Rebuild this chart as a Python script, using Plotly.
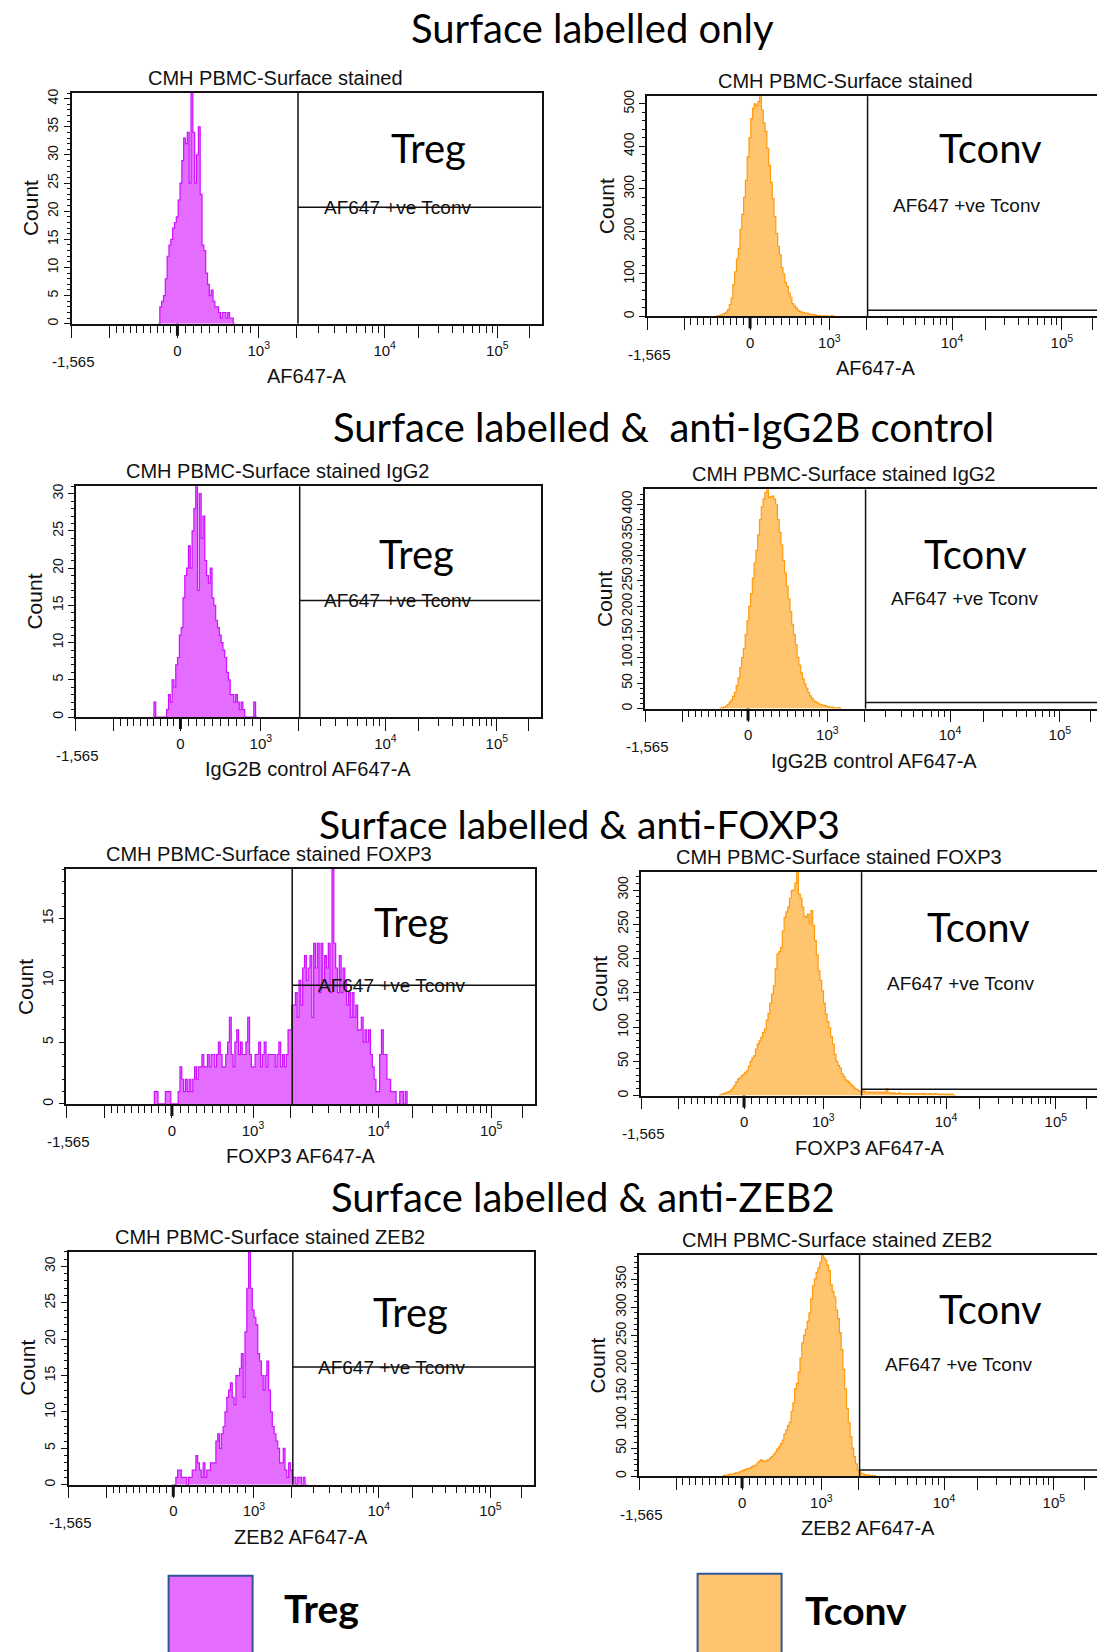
import numpy as np
import plotly.graph_objects as go

# ---------------- axis scale (FlowJo 256-channel biexponential display) -------------
AXIS_VALUES = [-1565, 0, 1000, 10000, 100000, 262144]
AXIS_CHANNELS = [0.0, 57.6, 101.9, 170.5, 231.9, 256.0]

X_MAJOR_VALUES = [-1565, -1000, 0, 1000, 2000, 10000, 20000, 100000, 200000]
X_MAJOR_TEXT = ["", "", "0", "10<sup>3</sup>", "", "10<sup>4</sup>", "", "10<sup>5</sup>", ""]
X_MINOR_VALUES = ([-900, -800, -700, -600, -500, -400, -300, -200, -100]
                  + [100, 200, 300, 400, 500, 600, 700, 800, 900]
                  + [3000, 4000, 5000, 6000, 7000, 8000, 9000]
                  + [30000, 40000, 50000, 60000, 70000, 80000, 90000])
GATE_VALUE = 2050

# ---------------- histogram counts per display channel -----------------------------
TREG_SURF_START = 47
TREG_SURF = [0, 3, 4, 5, 8, 12, 14, 15, 17, 18, 19, 22, 25, 29, 33, 32, 34, 25, 41, 34,
             25, 30, 35, 23, 14, 13, 9, 7, 5, 6, 4, 3, 3, 2, 1, 2, 2, 1, 2, 1, 1, 0]

TCONV_SURF_START = 39
TCONV_SURF = [1, 2, 3, 5, 7, 10, 16, 28, 43, 75, 105, 135, 160, 205, 240, 280, 320, 375,
              420, 465, 490, 500, 495, 505, 518, 485, 455, 435, 395, 355, 315, 277, 235,
              195, 165, 145, 115, 100, 80, 70, 55, 45, 30, 25, 20, 15, 12, 10, 9, 8, 8,
              6, 5, 4, 4, 3, 2, 2, 1, 1, 1, 1, 0, 0, 2, 0]

TREG_IGG_START = 43
TREG_IGG = [2, 0, 0, 0, 0, 0, 0, 1, 3, 2, 5, 4, 7, 8, 11, 12, 16, 19, 20, 23, 20, 25, 28,
            31, 17, 30, 24, 27, 21, 19, 18, 20, 16, 15, 13, 12, 11, 10, 9, 8, 6, 5, 3, 3,
            2, 3, 2, 1, 2, 1, 0, 0, 0, 0, 0, 2, 0]

TCONV_IGG_START = 42
TCONV_IGG = [1, 2, 3, 5, 8, 12, 17, 24, 32, 45, 60, 80, 100, 118, 145, 172, 200, 225, 255,
             285, 310, 340, 370, 395, 410, 423, 429, 413, 415, 416, 410, 400, 370, 345,
             320, 290, 265, 240, 215, 190, 165, 145, 125, 100, 85, 70, 58, 48, 40, 32,
             25, 20, 15, 13, 11, 9, 8, 7, 6, 5, 4, 3, 3, 2, 1, 1, 2, 0]

TREG_FOXP3_START = 48
TREG_FOXP3 = [1, 1, 0, 0, 0, 0, 1, 1, 1, 0, 0, 0, 0, 1, 3, 2, 1, 2, 1, 2, 1, 2, 3, 2, 3,
              3, 4, 3, 3, 4, 3, 4, 4, 3, 4, 5, 4, 3, 3, 4, 5, 7, 4, 3, 5, 6, 4, 5, 4, 4,
              5, 7, 4, 3, 3, 4, 4, 5, 3, 4, 5, 3, 4, 4, 4, 4, 3, 4, 5, 3, 4, 3, 4, 6, 6,
              8, 8, 9, 7, 10, 8, 11, 12, 10, 11, 12, 7, 13, 11, 13, 9, 13, 10, 12, 11,
              13, 9, 19, 13, 11, 9, 12, 9, 11, 10, 8, 9, 7, 9, 7, 8, 6, 6, 7, 5, 6, 5, 6,
              4, 3, 2, 1, 1, 4, 6, 4, 4, 2, 2, 1, 1, 1, 0, 0, 1, 1, 0, 1]

TCONV_FOXP3_START = 44
TCONV_FOXP3 = [1, 2, 3, 4, 5, 6, 8, 11, 15, 20, 24, 26, 29, 31, 34, 36, 43, 50, 55, 58,
               68, 75, 80, 85, 92, 97, 110, 120, 135, 148, 160, 185, 206, 210, 216, 240,
               260, 268, 275, 288, 299, 300, 310, 326, 294, 288, 275, 262, 260, 265, 250,
               270, 248, 226, 205, 182, 168, 153, 135, 119, 108, 99, 86, 75, 60, 50, 44,
               40, 32, 28, 23, 21, 19, 16, 14, 11, 9, 8, 6, 6, 7,
               5, 5, 4, 5, 5, 4, 5, 5, 4, 5, 5, 4, 10, 4,
               4, 3, 4, 3, 3, 4, 3,
               3, 3, 2, 3, 3, 2, 3, 3, 2, 3, 3, 2, 3, 2, 2, 3, 2, 2, 3,
               2, 2, 1, 2, 2, 1, 2, 1, 2, 1, 0]

TREG_ZEB2_START = 58
TREG_ZEB2 = [0, 1, 2, 2, 1, 1, 1, 0, 1, 1, 2, 2, 4, 3, 2, 1, 3, 1, 2, 2, 3, 3, 3, 6, 7,
             5, 7, 8, 10, 12, 13, 14, 12, 11, 15, 15, 16, 18, 12, 21, 27, 32, 27, 24, 23,
             22, 18, 17, 15, 13, 15, 17, 13, 10, 8, 7, 6, 5, 3, 3, 5, 2, 1, 3, 2, 1, 1,
             0, 1, 1, 0, 1, 0]

TCONV_ZEB2_START = 47
TCONV_ZEB2 = [1, 2, 2, 3, 4, 4, 5, 6, 6, 8, 9, 11, 12, 13, 14, 15, 17, 19, 20, 24, 27, 29,
              27, 26, 28, 29, 32, 35, 39, 43, 48, 52, 58, 64, 75, 82, 90, 96, 115, 130,
              155, 165, 185, 210, 237, 250, 261, 275, 290, 315, 338, 350, 362, 370, 380,
              393, 388, 384, 375, 365, 340, 328, 318, 295, 280, 255, 225, 190, 155, 120,
              95, 70, 50, 35, 22, 11, 8, 5, 4, 3, 2, 2, 1, 1, 1, 0]

ROW_TITLES = ["Surface labelled only", "Surface labelled &  anti-IgG2B control",
              "Surface labelled & anti-FOXP3", "Surface labelled & anti-ZEB2"]
LEGEND_LABELS = ["Treg", "Tconv"]

# ---------------- styling / layout ------------------------------------------------
W_FIG, H_FIG = 1097, 1652
FLOW_FONT = "Liberation Sans"
PPT_FONT = "Lato"
COLORS = {"Treg": ("#E46CFF", "#CC11FF"), "Tconv": ("#FFC46E", "#FF9A10")}
TCONV_W = 458

panels = [
    dict(counts=TREG_SURF, start=TREG_SURF_START, kind="Treg", title="CMH PBMC-Surface stained",
         xtitle="AF647-A", dt=5, mdt=1, box=(71.7, 87.5, 541.6, 319.3), lab=(0.76, 0.74)),
    dict(counts=TCONV_SURF, start=TCONV_SURF_START, kind="Tconv", title="CMH PBMC-Surface stained",
         xtitle="AF647-A", dt=100, mdt=20, box=(647, 90.6, None, 311.9), lab=(0.751, 0.743)),
    dict(counts=TREG_IGG, start=TREG_IGG_START, kind="Treg", title="CMH PBMC-Surface stained IgG2",
         xtitle="IgG2B control AF647-A", dt=5, mdt=1, box=(75.9, 482.6, 540.6, 714.5), lab=(0.732, 0.686)),
    dict(counts=TCONV_IGG, start=TCONV_IGG_START, kind="Tconv", title="CMH PBMC-Surface stained IgG2",
         xtitle="IgG2B control AF647-A", dt=50, mdt=10, box=(645, 485.8, None, 706), lab=(0.721, 0.684)),
    dict(counts=TREG_FOXP3, start=TREG_FOXP3_START, kind="Treg", title="CMH PBMC-Surface stained FOXP3",
         xtitle="FOXP3 AF647-A", dt=5, mdt=1, box=(66.4, 867.3, 535.3, 1103.3), lab=(0.735, 0.754)),
    dict(counts=TCONV_FOXP3, start=TCONV_FOXP3_START, kind="Tconv", title="CMH PBMC-Surface stained FOXP3",
         xtitle="FOXP3 AF647-A", dt=50, mdt=10, box=(641, 870.4, None, 1094.9), lab=(0.737, 0.732)),
    dict(counts=TREG_ZEB2, start=TREG_ZEB2_START, kind="Treg", title="CMH PBMC-Surface stained ZEB2",
         xtitle="ZEB2 AF647-A", dt=5, mdt=1, box=(68.5, 1251.9, 534.3, 1485.9), lab=(0.735, 0.72)),
    dict(counts=TCONV_ZEB2, start=TCONV_ZEB2_START, kind="Tconv", title="CMH PBMC-Surface stained ZEB2",
         xtitle="ZEB2 AF647-A", dt=50, mdt=10, box=(639, 1255, None, 1477.4), lab=(0.767, 0.735)),
]
ROW_TITLE_POS = [(592.8, 22.5), (664, 423.5), (579.6, 821.5), (582.7, 1196.5)]
ROW_TITLE_SIZE = [40, 40, 39, 40]


def to_channel(v):
    v = np.asarray(v, dtype=float)
    lin = np.interp(v, AXIS_VALUES[:3], AXIS_CHANNELS[:3])
    lg = np.interp(np.log10(np.clip(v, 1000, None)), np.log10(AXIS_VALUES[2:]), AXIS_CHANNELS[2:])
    return np.where(v <= 1000, lin, lg)


fig = go.Figure()
annotations = []
shapes = []
major_ch = to_channel(X_MAJOR_VALUES).tolist()
minor_ch = to_channel(X_MINOR_VALUES).tolist()
gate_ch = float(to_channel(GATE_VALUE))
zero_ch = float(to_channel(0))
TXT = "#111"

for i, p in enumerate(panels, start=1):
    L, T, R, B = p["box"]
    full_w = (R - L) if R is not None else TCONV_W
    vis_r = min(W_FIG, L + full_w)
    xmax = (vis_r - L) / full_w * 256.0
    ph = B - T
    counts = np.asarray(p["counts"], dtype=float)
    n = len(counts)
    xs = np.concatenate([[p["start"]], p["start"] + np.arange(n + 1)])
    ys = np.concatenate([[0], counts, [0]])
    fill, line = COLORS[p["kind"]]
    xa = "x" if i == 1 else f"x{i}"
    ya = "y" if i == 1 else f"y{i}"
    fig.add_trace(go.Scatter(x=xs, y=ys, mode="lines", line=dict(shape="hv", color=line, width=1.2),
                             fill="tozeroy", fillcolor=fill, showlegend=False, hoverinfo="skip",
                             xaxis=xa, yaxis=ya))
    ymax = float(counts.max())
    key = "" if i == 1 else str(i)
    fig.update_layout(**{
        f"xaxis{key}": dict(domain=[L / W_FIG, vis_r / W_FIG], range=[0, xmax], anchor=ya,
                            showline=True, linecolor="#111", linewidth=1.5, mirror=True,
                            ticks="outside", tickmode="array", tickvals=major_ch, ticktext=X_MAJOR_TEXT,
                            ticklen=12, tickwidth=1, tickcolor="#111", ticklabelstandoff=0,
                            tickfont=dict(family=FLOW_FONT, size=15, color=TXT),
                            minor=dict(tickmode="array", tickvals=minor_ch, ticks="outside", ticklen=7,
                                       tickwidth=1, tickcolor="#111"),
                            showgrid=False, zeroline=False, fixedrange=True),
        f"yaxis{key}": dict(domain=[1 - B / H_FIG, 1 - T / H_FIG], range=[0, ymax], anchor=xa,
                            showline=True, linecolor="#111", linewidth=1.5,
                            mirror=(p["kind"] == "Treg"),
                            ticks="outside", tick0=0, dtick=p["dt"], ticklen=6, tickwidth=1,
                            tickcolor="#111", tickangle=-90, ticklabelstandoff=0,
                            tickfont=dict(family=FLOW_FONT, size=14, color=TXT),
                            minor=dict(tick0=0, dtick=p["mdt"], ticks="outside", ticklen=3,
                                       tickwidth=1, tickcolor="#111"),
                            showgrid=False, zeroline=False, fixedrange=True),
    })
    # gates
    hy = 0.505 if p["kind"] == "Treg" else 0.028
    shapes.append(dict(type="line", xref=xa, yref=f"{ya} domain", x0=gate_ch, x1=gate_ch, y0=0, y1=1,
                       line=dict(color="#111", width=1.5)))
    shapes.append(dict(type="line", xref=xa, yref=f"{ya} domain", x0=gate_ch, x1=xmax, y0=hy, y1=hy,
                       line=dict(color="#111", width=1.5)))
    # thick zero tick
    shapes.append(dict(type="line", xref=xa, yref=f"{ya} domain", x0=zero_ch, x1=zero_ch, y0=0,
                       y1=-12 / ph, line=dict(color="#111", width=3)))
    # texts
    annotations.append(dict(text=p["title"], xref=xa, yref=f"{ya} domain", x=0.433 * 256, y=1,
                            yshift=15, yanchor="middle", xanchor="center", showarrow=False,
                            font=dict(family=FLOW_FONT, size=20, color=TXT)))
    annotations.append(dict(text=p["xtitle"], xref=xa, yref=f"{ya} domain", x=128, y=0, yshift=-52,
                            yanchor="middle", xanchor="center", showarrow=False,
                            font=dict(family=FLOW_FONT, size=20, color=TXT)))
    annotations.append(dict(text="-1,565", xref=xa, yref=f"{ya} domain", x=0, y=0, yshift=-38,
                            xshift=2, yanchor="middle", xanchor="center", showarrow=False,
                            font=dict(family=FLOW_FONT, size=15, color=TXT)))
    annotations.append(dict(text="Count", xref=f"{xa} domain", yref=f"{ya} domain", x=0, y=0.5,
                            xshift=-41, textangle=-90, yanchor="middle", xanchor="center",
                            showarrow=False, font=dict(family=FLOW_FONT, size=21, color=TXT)))
    annotations.append(dict(text="AF647 +ve Tconv", xref=xa, yref=f"{ya} domain",
                            x=(0.693 if p["kind"] == "Treg" else 0.697) * 256, y=0.49, yshift=3,
                            yanchor="middle", xanchor="center", showarrow=False,
                            font=dict(family=FLOW_FONT, size=19, color=TXT)))
    annotations.append(dict(text=p["kind"], xref=xa, yref=f"{ya} domain", x=p["lab"][0] * 256,
                            y=p["lab"][1], yshift=5, yanchor="middle", xanchor="center", showarrow=False,
                            font=dict(family=PPT_FONT, size=40, color="#000")))

for txt, (cx, cy), fs in zip(ROW_TITLES, ROW_TITLE_POS, ROW_TITLE_SIZE):
    annotations.append(dict(text=txt, xref="paper", yref="paper", x=cx / W_FIG, y=1 - cy / H_FIG,
                            xanchor="center", yanchor="middle", showarrow=False,
                            font=dict(family=PPT_FONT, size=fs, color="#000")))

# legend boxes
LEGEND_BOX = [(168.6, 1577.5), (697.6, 1575.4)]
LEGEND_TEXT = [(282.4, 1610.2), (803.0, 1612.3)]
for lab, (bx, by), (tx, ty) in zip(LEGEND_LABELS, LEGEND_BOX, LEGEND_TEXT):
    fill, _ = COLORS[lab]
    shapes.append(dict(type="rect", xref="paper", yref="paper", x0=bx / W_FIG, x1=(bx + 84) / W_FIG,
                       y0=1 - by / H_FIG, y1=-0.02, fillcolor=fill,
                       line=dict(color="#2F5597", width=2)))
    annotations.append(dict(text=f"<b>{lab}</b>", xref="paper", yref="paper", x=tx / W_FIG,
                            y=1 - ty / H_FIG, xanchor="left", yanchor="middle", showarrow=False,
                            font=dict(family=PPT_FONT, size=39, color="#000")))

fig.update_layout(width=W_FIG, height=H_FIG, margin=dict(l=0, r=0, t=0, b=0),
                  paper_bgcolor="white", plot_bgcolor="white", showlegend=False,
                  annotations=annotations, shapes=shapes)
fig.write_html("out.html")
